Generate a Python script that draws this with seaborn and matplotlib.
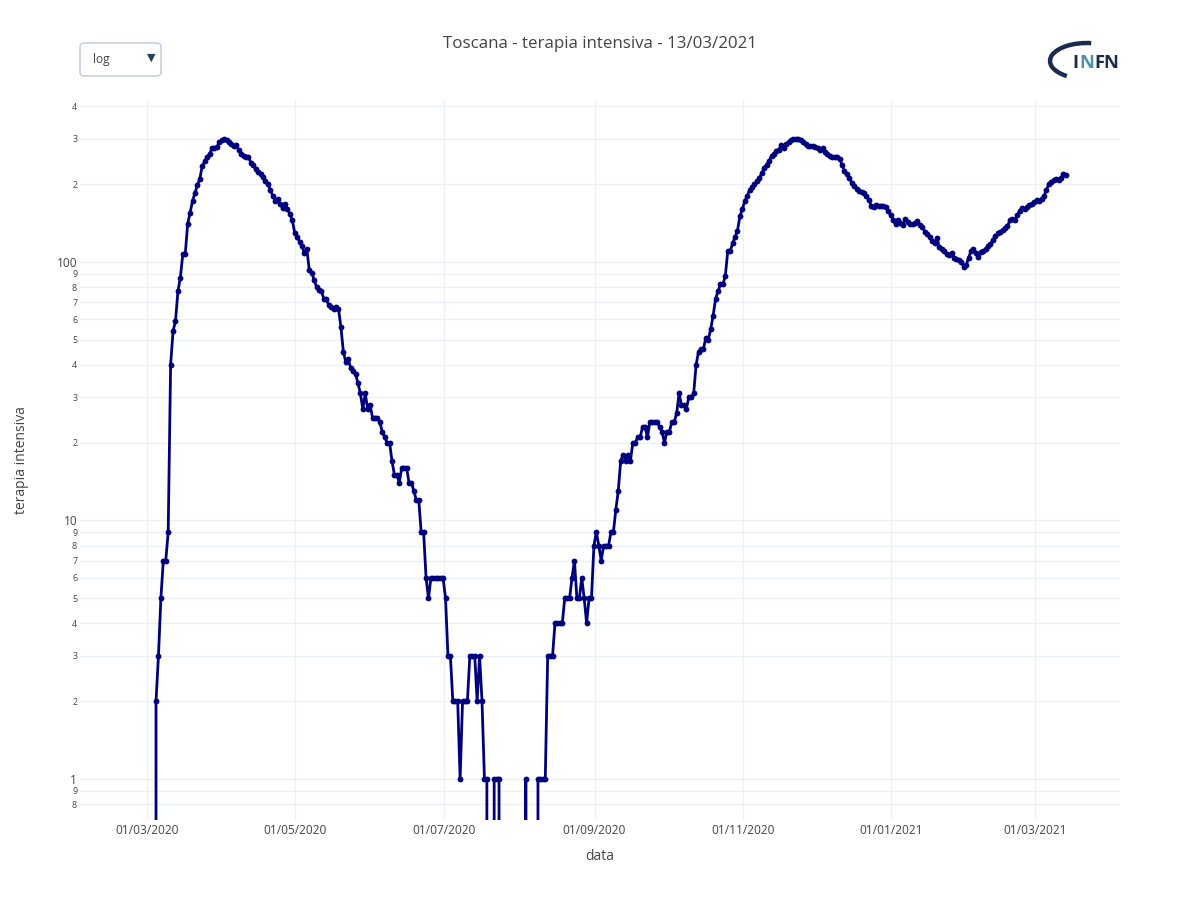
import numpy as np
import pandas as pd
import matplotlib
matplotlib.use("Agg")
import matplotlib.pyplot as plt
from matplotlib.patches import FancyBboxPatch, Arc
from matplotlib.ticker import FixedLocator, FixedFormatter
import seaborn as sns

# ---------------- data ----------------
start_date = "2020-02-24 18:00"
end_date = "2021-03-13 18:00"

icu_2020_02 = [0, 0, 0, 0, 0, 0]
icu_2020_03 = [0, 0, 0, 2, 3, 5, 7, 7, 9, 40, 54, 59, 77, 87, 107, 107, 140, 155, 172, 185,
               198, 210, 235, 245, 255, 262, 275, 276, 278, 290, 296]
icu_2020_04 = [299, 296, 290, 286, 280, 283, 270, 262, 258, 255, 255, 242, 238, 228, 222,
               218, 214, 206, 200, 190, 180, 172, 175, 168, 162, 168, 160, 154, 145, 130]
icu_2020_05 = [125, 120, 115, 108, 112, 93, 91, 85, 80, 78, 77, 72, 72, 68, 67, 66, 67, 66,
               56, 45, 41, 42, 39, 38, 37, 34, 31, 27, 31, 27, 28]
icu_2020_06 = [25, 25, 25, 24, 22, 21, 20, 20, 17, 15, 15, 14, 16, 16, 16, 14, 14, 13, 12, 12,
               9, 9, 6, 5, 6, 6, 6, 6, 6, 6]
icu_2020_07 = [5, 3, 3, 2, 2, 2, 1, 2, 2, 2, 3, 3, 3, 2, 3, 2, 1, 1, 0, 0, 1, 1, 1,
               0, 0, 0, 0, 0, 0, 0, 0]
icu_2020_08 = [0, 0, 1, 0, 0, 0, 0, 1, 1, 1, 1, 3, 3, 3, 4, 4, 4, 4, 5, 5, 5, 6, 7, 5, 5, 6,
               5, 4, 5, 5, 8]
icu_2020_09 = [9, 8, 7, 8, 8, 8, 9, 9, 11, 13, 17, 18, 17, 18, 17, 20, 20, 21, 21, 23, 23, 21,
               24, 24, 24, 24, 23, 22, 20, 22]
icu_2020_10 = [22, 24, 24, 26, 31, 28, 28, 27, 30, 30, 31, 40, 45, 46, 46, 51, 50, 55, 62, 72,
               77, 82, 82, 88, 110, 110, 118, 125, 132, 150, 160]
icu_2020_11 = [172, 180, 190, 195, 200, 205, 212, 220, 231, 238, 246, 257, 262, 268, 272, 283,
               276, 286, 290, 296, 299, 299, 300, 297, 292, 285, 282, 281, 280, 278]
icu_2020_12 = [276, 271, 276, 266, 262, 257, 255, 255, 254, 250, 237, 225, 218, 212, 202, 197,
               192, 189, 187, 185, 180, 174, 165, 163, 166, 165, 164, 164, 163, 157, 152]
icu_2021_01 = [145, 140, 146, 141, 139, 147, 143, 140, 140, 142, 144, 139, 137, 131, 128, 125,
               121, 118, 124, 114, 112, 110, 107, 106, 108, 104, 103, 102, 100, 96, 97]
icu_2021_02 = [104, 110, 112, 108, 105, 109, 110, 112, 115, 117, 122, 126, 129, 131, 133, 135,
               138, 145, 147, 145, 152, 158, 162, 160, 163, 166, 168, 170]
icu_2021_03 = [174, 172, 176, 180, 190, 200, 204, 207, 210, 208, 212, 219, 217]

x_tick_dates = ["2020-03-01", "2020-05-01", "2020-07-01", "2020-09-01",
                "2020-11-01", "2021-01-01", "2021-03-01"]
x_tick_labels = ["01/03/2020", "01/05/2020", "01/07/2020", "01/09/2020",
                 "01/11/2020", "01/01/2021", "01/03/2021"]
y_major_ticks = [1, 10, 100]
y_major_labels = ["1", "10", "100"]
y_minor_ticks = [0.8, 0.9, 2, 3, 4, 5, 6, 7, 8, 9, 20, 30, 40, 50, 60, 70, 80, 90,
                 200, 300, 400]
y_minor_labels = ["8", "9", "2", "3", "4", "5", "6", "7", "8", "9",
                  "2", "3", "4", "5", "6", "7", "8", "9", "2", "3", "4"]

title_text = "Toscana - terapia intensiva - 13/03/2021"
x_title = "data"
y_title = "terapia intensiva"
menu_label = "log"
logo_parts = [("I", "#1d2a4f"), ("N", "#4a8fb0"), ("FN", "#1d2a4f")]

# ---------------- build frame ----------------
values = (icu_2020_02 + icu_2020_03 + icu_2020_04 + icu_2020_05 + icu_2020_06 +
          icu_2020_07 + icu_2020_08 + icu_2020_09 + icu_2020_10 + icu_2020_11 +
          icu_2020_12 + icu_2021_01 + icu_2021_02 + icu_2021_03)
dates = pd.date_range(start_date, end_date, freq="D")
assert len(dates) == len(values), (len(dates), len(values))
df = pd.DataFrame({x_title: dates, y_title: values})

# ---------------- style ----------------
sns.set_theme(style="white")
plt.rcParams["font.family"] = ["Open Sans", "DejaVu Sans"]
text_color = "#444444"
grid_color = "#EBF0F8"
line_color = "#00007f"

W, H = 1200, 900
fig = plt.figure(figsize=(W / 100, H / 100), dpi=100)
ax = fig.add_axes([80 / W, 80 / H, 1040 / W, 720 / H])

sns.lineplot(data=df, x=x_title, y=y_title, ax=ax, color=line_color, linewidth=2,
             marker="o", markersize=4.2, markeredgewidth=0, estimator=None, sort=False)

ax.set_yscale("log")
ax.set_ylim(0.694, 423.3)
day0 = pd.Timestamp("2020-02-24")
day1 = pd.Timestamp("2021-03-13")
ax.set_xlim(day0 - pd.Timedelta(days=21.5), day1 + pd.Timedelta(days=23.0))

ax.yaxis.set_major_locator(FixedLocator(y_major_ticks))
ax.yaxis.set_major_formatter(FixedFormatter(y_major_labels))
ax.yaxis.set_minor_locator(FixedLocator(y_minor_ticks))
ax.yaxis.set_minor_formatter(FixedFormatter(y_minor_labels))
ax.set_xticks(pd.to_datetime(x_tick_dates))
ax.set_xticklabels(x_tick_labels)

ax.tick_params(axis="both", which="both", length=0, colors=text_color)
ax.tick_params(axis="y", which="major", labelsize=8.6, pad=2)
ax.tick_params(axis="y", which="minor", labelsize=6.4, pad=2)
ax.tick_params(axis="x", which="major", labelsize=8.6, pad=3)

ax.xaxis.grid(True, which="major", color=grid_color, linewidth=1)
ax.yaxis.grid(True, which="both", color=grid_color, linewidth=1)
ax.set_axisbelow(True)
for s in ax.spines.values():
    s.set_visible(False)

ax.set_xlabel(x_title, fontsize=10, color=text_color)
ax.set_ylabel(y_title, fontsize=10, color=text_color)
ax.xaxis.set_label_coords(0.5, -(856 - 820) / 720)
ax.xaxis.label.set_va("center")
ax.yaxis.set_label_coords((22 - 80) / 1040, 0.5)
ax.yaxis.label.set_va("center")
ax.yaxis.label.set_ha("center")

fig.text(0.5, 1 - 44 / H, title_text, ha="center", va="center", fontsize=12.2, color=text_color)

# dropdown menu
box = FancyBboxPatch((80 / W, 1 - 76 / H), 81 / W, 33 / H,
                     boxstyle="round,pad=0,rounding_size=0.004",
                     transform=fig.transFigure, facecolor="white",
                     edgecolor="#BEC8D9", linewidth=1)
fig.add_artist(box)
fig.text(93 / W, 1 - 59 / H, menu_label, ha="left", va="center", fontsize=8.6, color=text_color)
fig.text(151 / W, 1 - 58 / H, "\u25BC", ha="center", va="center", fontsize=8,
         color="#2a3f5f", family=["DejaVu Sans"])

# INFN logo (approximate): swoosh plus lettering placed side by side
arc = Arc((1087 / W, 1 - 61 / H), 74 / W, 36 / H, theta1=80, theta2=225,
          transform=fig.transFigure, color="#1d2a4f", linewidth=3.2)
fig.add_artist(arc)
renderer = fig.canvas.get_renderer()
x_px = 1072.0
for part, col in logo_parts:
    t = fig.text(x_px / W, 1 - 63 / H, part, ha="left", va="center", fontsize=13.2,
                 fontweight="bold", color=col)
    bb = t.get_window_extent(renderer=renderer)
    x_px += bb.width + 0.8

fig.savefig("out.png", dpi=100)
